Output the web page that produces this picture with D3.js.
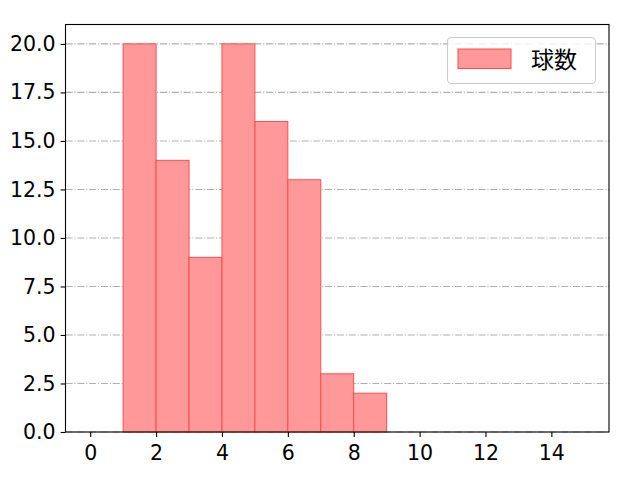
<!DOCTYPE html>
<html><head><meta charset="utf-8">
<script src="https://cdn.jsdelivr.net/npm/d3@7"></script>
<style>body{margin:0;background:#fff}svg{display:block}</style>
</head><body>
<svg id="c" width="640" height="480"></svg>
<script>
const binEdges = [0,1,2,3,4,5,6,7,8,9,10,11,12,13,14,15];
const counts   = [0,20,14,9,20,16,13,3,2,0,0,0,0,0,0];
const xTicks = [0,2,4,6,8,10,12,14];
const yTicks = [0,2.5,5,7.5,10,12.5,15,17.5,20];
const seriesName = "球数";

const svg = d3.select("#c");
const L=65.5, R=609, T=24.5, B=432;
const x = d3.scaleLinear().domain([-0.75,15.75]).range([L,R]);
const y = d3.scaleLinear().domain([0,21]).range([B,T]);
const numFont = "'DejaVu Sans', sans-serif";
const cjkFont = "'Noto Sans CJK JP', sans-serif";

// grid
svg.append("g").selectAll("line").data(yTicks).join("line")
  .attr("x1",L).attr("x2",R).attr("y1",d=>y(d)).attr("y2",d=>y(d))
  .attr("stroke","#b0b0b0").attr("stroke-width",1.1)
  .attr("stroke-dasharray","7.1,1.8,1.1,1.8");

// bars
const bins = counts.map((c,i)=>({x0:binEdges[i],x1:binEdges[i+1],c}));
svg.append("g").selectAll("rect").data(bins.filter(b=>b.c>0)).join("rect")
  .attr("x",d=>x(d.x0)).attr("width",d=>x(d.x1)-x(d.x0))
  .attr("y",d=>y(d.c)).attr("height",d=>y(0)-y(d.c))
  .attr("fill","#ff9999").attr("stroke","#ff4d4d").attr("stroke-width",1);

// axes
const xa = svg.append("g").attr("transform",`translate(0,${B})`)
  .call(d3.axisBottom(x).tickValues(xTicks).tickFormat(d3.format("d")).tickSize(4.9).tickPadding(4));
const ya = svg.append("g").attr("transform",`translate(${L},0)`)
  .call(d3.axisLeft(y).tickValues(yTicks).tickFormat(d3.format(".1f")).tickSize(4.9).tickPadding(5));
[xa,ya].forEach(a=>{
  a.select(".domain").remove();
  a.selectAll("line").attr("stroke","#000").attr("stroke-width",1.1);
  a.selectAll("text").attr("font-family",numFont).attr("font-size",20.5).attr("fill","#000");
});
xa.selectAll("text").attr("dy","0.95em");
// frame
svg.append("rect").attr("x",L).attr("y",T).attr("width",R-L).attr("height",B-T)
  .attr("fill","none").attr("stroke","#000").attr("stroke-width",1.1);

// legend
const lg = svg.append("g");
lg.append("rect").attr("x",447.5).attr("y",37.5).attr("width",148).attr("height",46)
  .attr("rx",4).attr("fill","#fff").attr("fill-opacity",0.8).attr("stroke","#cccccc").attr("stroke-width",1.1);
lg.append("rect").attr("x",458).attr("y",49).attr("width",53).attr("height",19.5)
  .attr("fill","#ff9999").attr("stroke","#ff4d4d").attr("stroke-width",1);
lg.append("text").attr("x",531).attr("y",67.5).attr("font-family",cjkFont).attr("font-size",23)
  .attr("fill","#000").text(seriesName);
</script>
</body></html>
